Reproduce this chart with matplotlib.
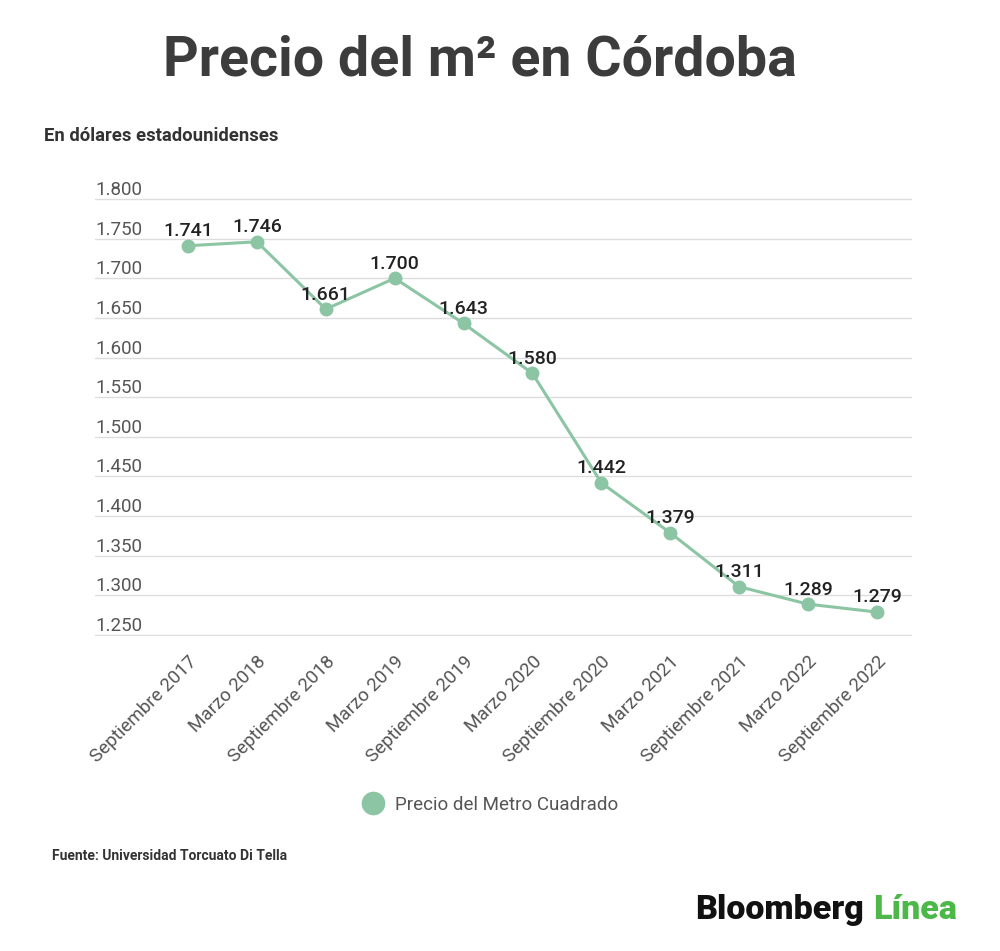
import matplotlib
matplotlib.use("Agg")
import matplotlib.pyplot as plt
import matplotlib.transforms as mtransforms

plt.rcParams['font.family'] = ['Roboto', 'DejaVu Sans']

categories = ["Septiembre 2017", "Marzo 2018", "Septiembre 2018", "Marzo 2019",
              "Septiembre 2019", "Marzo 2020", "Septiembre 2020", "Marzo 2021",
              "Septiembre 2021", "Marzo 2022", "Septiembre 2022"]
values = [1741, 1746, 1661, 1700, 1643, 1580, 1442, 1379, 1311, 1289, 1279]
yticks = [1250, 1300, 1350, 1400, 1450, 1500, 1550, 1600, 1650, 1700, 1750, 1800]

def fmt(v):
    return f"{v:,}".replace(",", ".")

green = "#8cc5a3"

fig = plt.figure(figsize=(10, 9.51), dpi=100)
ax = fig.add_axes([0.095, 1 - 636 / 951, 0.817, (636 - 198) / 951])

x = list(range(len(categories)))
ax.plot(x, values, color=green, lw=2.2, marker='o', markersize=9,
        markerfacecolor=green, markeredgecolor=green, zorder=3, clip_on=False)

for xi, v in zip(x, values):
    ax.annotate(fmt(v), (xi, v), xytext=(0, 4), textcoords='offset points',
                ha='center', va='bottom', fontsize=14, color='#222222',
                fontweight='medium', zorder=4)

ax.set_xlim(-1.35, 10.51)
ax.set_ylim(1248.8, 1801.2)
ax.set_yticks(yticks)
ax.set_yticklabels([])
ax.tick_params(axis='y', length=0)
ax.grid(axis='y', color='#dddddd', lw=1)
ax.set_axisbelow(True)
for s in ax.spines.values():
    s.set_visible(False)

trans = mtransforms.blended_transform_factory(ax.transAxes, ax.transData)
for t in yticks:
    ax.text(0.0, t, fmt(t), transform=trans, ha='left', va='bottom',
            fontsize=13.5, color='#555555')

ax.set_xticks(x)
ax.set_xticklabels(categories, rotation=45, ha='right', rotation_mode='anchor',
                   fontsize=13.5, color='#555555')
ax.tick_params(axis='x', length=0, pad=12)

fig.text(0.48, 1 - 60 / 951, "Precio del m² en Córdoba", ha='center', va='center',
         fontsize=40, fontweight='bold', color='#3c3c3c')
fig.text(0.044, 1 - 136 / 951, "En dólares estadounidenses", ha='left', va='center',
         fontsize=13.3, fontweight='bold', color='#333333')

# legend
fig.legend(handles=[plt.Line2D([], [], marker='o', color='none', markerfacecolor=green,
                               markeredgecolor=green, markersize=16)],
           labels=["Precio del Metro Cuadrado"], loc='center',
           bbox_to_anchor=(0.49, 1 - 805 / 951), frameon=False, fontsize=13.5,
           labelcolor='#555555', handletextpad=0.6, handlelength=1.2)

fig.text(0.052, 1 - 856 / 951, "Fuente: Universidad Torcuato Di Tella", ha='left',
         va='center', fontsize=10, fontweight='bold', color='#333333')

t1 = fig.text(0.695, 1 - 910 / 951, "Bloomberg", ha='left', va='center',
              fontsize=24.5, fontweight='heavy', color='#111111')
fig.canvas.draw()
bb = t1.get_window_extent()
fig.text(bb.x1 / fig.bbox.width + 0.009, 1 - 910 / 951, "Línea", ha='left', va='center',
         fontsize=24.5, fontweight='heavy', color='#4cb848')

fig.savefig("out.png", dpi=100, facecolor='white')
